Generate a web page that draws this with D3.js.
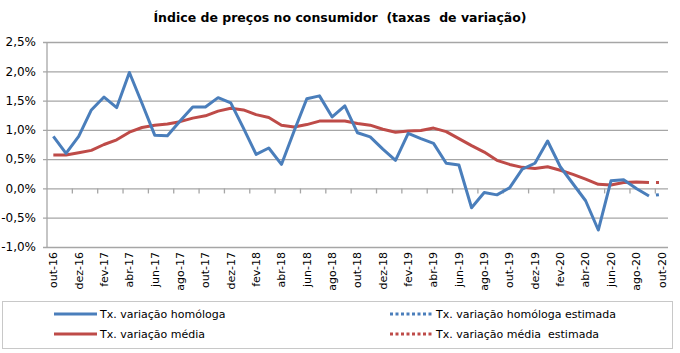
<!DOCTYPE html>
<html>
<head>
<meta charset="utf-8">
<script src="https://cdn.jsdelivr.net/npm/d3@7"></script>
<style>
    body { margin: 0; background: #fff; }
    #chart { width: 680px; height: 353px; }
    text { font-family: "DejaVu Sans", sans-serif; fill: #000; }
</style>
</head>
<body>
<div id="chart"></div>
<script>
// months out-16 .. out-20
const months = [
    "out-16","nov-16","dez-16","jan-17","fev-17","mar-17","abr-17","mai-17","jun-17","jul-17","ago-17","set-17",
    "out-17","nov-17","dez-17","jan-18","fev-18","mar-18","abr-18","mai-18","jun-18","jul-18","ago-18","set-18",
    "out-18","nov-18","dez-18","jan-19","fev-19","mar-19","abr-19","mai-19","jun-19","jul-19","ago-19","set-19",
    "out-19","nov-19","dez-19","jan-20","fev-20","mar-20","abr-20","mai-20","jun-20","jul-20","ago-20","set-20",
    "out-20"
];

// Tx. variação homóloga (%), out-16 .. set-20
const homologa = [
    0.89, 0.60, 0.89, 1.34, 1.56, 1.38, 1.98, 1.45, 0.91, 0.90, 1.15, 1.39,
    1.39, 1.55, 1.46, 1.03, 0.58, 0.69, 0.41, 0.98, 1.53, 1.58, 1.22, 1.41,
    0.95, 0.88, 0.67, 0.48, 0.94, 0.85, 0.77, 0.43, 0.40, -0.33, -0.07, -0.11,
    0.01, 0.33, 0.43, 0.81, 0.37, 0.08, -0.21, -0.71, 0.13, 0.15, 0.00, -0.13
];

// Tx. variação média (%), out-16 .. set-20
const media = [
    0.57, 0.57, 0.61, 0.65, 0.75, 0.83, 0.96, 1.04, 1.08, 1.10, 1.14, 1.20,
    1.24, 1.32, 1.37, 1.34, 1.26, 1.21, 1.08, 1.05, 1.09, 1.15, 1.15, 1.15,
    1.11, 1.08, 1.01, 0.96, 0.98, 0.99, 1.03, 0.97, 0.85, 0.73, 0.62, 0.48,
    0.41, 0.36, 0.34, 0.37, 0.31, 0.24, 0.16, 0.07, 0.06, 0.10, 0.11, 0.10
];

// estimated values
const estMonths = ["set-20", "out-20"];
const homologaEst = [-0.13, -0.10];
const mediaEst = [0.10, 0.10];

const yTicks = [-1.0, -0.5, 0.0, 0.5, 1.0, 1.5, 2.0, 2.5];

const legendItems = [
    { label: "Tx. variação homóloga", color: "#4a7ebb", dotted: false },
    { label: "Tx. variação média", color: "#be4b48", dotted: false },
    { label: "Tx. variação homóloga estimada", color: "#4a7ebb", dotted: true },
    { label: "Tx. variação média  estimada", color: "#be4b48", dotted: true }
];

class CpiChart {

    constructor(parentElement) {
        this.parentElement = parentElement;
        this.initVis();
    }

    initVis() {
        let vis = this;

        vis.margin = {top: 42, right: 12, bottom: 106, left: 47};
        vis.width = 680 - vis.margin.left - vis.margin.right;
        vis.height = 353 - vis.margin.top - vis.margin.bottom;

        vis.root = d3.select(`#${vis.parentElement}`)
            .append("svg")
            .attr("width", 680)
            .attr("height", 353);

        // title
        vis.root.append("text")
            .attr("x", 340)
            .attr("y", 22)
            .attr("text-anchor", "middle")
            .style("font-size", "12.5px")
            .style("font-weight", "bold")
            .attr("xml:space", "preserve")
            .text("Índice de preços no consumidor  (taxas  de variação)");

        vis.svg = vis.root.append("g")
            .attr("transform", `translate(${vis.margin.left},${vis.margin.top})`);

        vis.x = d3.scaleBand()
            .domain(months)
            .range([0, vis.width])
            .padding(0);

        vis.y = d3.scaleLinear()
            .domain([-1.0, 2.5])
            .range([vis.height, 0]);

        vis.updateVis();
        vis.drawLegend();
    }

    updateVis() {
        let vis = this;
        let fmt = d => d3.format(".1f")(d).replace(".", ",").replace("−", "-") + "%";

        // y axis + gridlines
        let yAxis = vis.svg.append("g")
            .call(d3.axisLeft(vis.y).tickValues(yTicks).tickSize(-vis.width - 4).tickFormat(fmt))
            .attr("transform", "translate(-4,0)");
        yAxis.select(".domain").remove();
        yAxis.selectAll("line").style("stroke", "#a6a6a6").style("stroke-width", 1.3);
        yAxis.selectAll("text")
            .attr("x", -7)
            .style("font-size", "12px")
            .style("font-family", "DejaVu Sans");

        vis.svg.append("line")
            .attr("x1", 0).attr("x2", 0)
            .attr("y1", vis.y(2.5)).attr("y2", vis.y(-1.0))
            .style("stroke", "#a6a6a6")
            .style("stroke-width", 1.3);

        // category tick marks on the 0% line, every 2 months
        let tickMonths = months.filter((m, i) => i % 2 === 0 && i > 0);
        vis.svg.selectAll(".cat-tick")
            .data(tickMonths)
            .enter()
            .append("line")
            .attr("class", "cat-tick")
            .attr("x1", d => vis.x(d)).attr("x2", d => vis.x(d))
            .attr("y1", vis.y(0)).attr("y2", vis.y(0) + 5)
            .style("stroke", "#a6a6a6")
            .style("stroke-width", 1.3);

        // category labels at the bottom
        let xAxis = vis.svg.append("g")
            .attr("transform", `translate(0,${vis.height})`)
            .call(d3.axisBottom(vis.x).tickValues(months.filter((m, i) => i % 2 === 0)).tickSize(0));
        xAxis.select(".domain").remove();
        xAxis.selectAll("text")
            .attr("transform", "rotate(-90)")
            .attr("text-anchor", "end")
            .attr("x", -5)
            .attr("y", 0)
            .attr("dy", "0.35em")
            .style("font-size", "11px")
            .style("font-family", "DejaVu Sans");

        let cx = d => vis.x(d) + vis.x.bandwidth() / 2;

        let line = d3.line()
            .x(d => cx(d.m))
            .y(d => vis.y(d.v));

        let homData = homologa.map((v, i) => ({m: months[i], v: v}));
        let medData = media.map((v, i) => ({m: months[i], v: v}));
        let homEst = homologaEst.map((v, i) => ({m: estMonths[i], v: v}));
        let medEst = mediaEst.map((v, i) => ({m: estMonths[i], v: v}));

        vis.svg.append("path")
            .datum(medData)
            .attr("d", line)
            .attr("fill", "none")
            .attr("stroke", "#be4b48")
            .attr("stroke-width", 3)
            .attr("stroke-linejoin", "round");

        vis.svg.append("path")
            .datum(homData)
            .attr("d", line)
            .attr("fill", "none")
            .attr("stroke", "#4a7ebb")
            .attr("stroke-width", 3)
            .attr("stroke-linejoin", "round");

        [[homEst, "#4a7ebb"], [medEst, "#be4b48"]].forEach(([data, color]) => {
            vis.svg.append("path")
                .datum(data)
                .attr("d", line)
                .attr("fill", "none")
                .attr("stroke", color)
                .attr("stroke-width", 3)
                .attr("stroke-dasharray", "0,7,3,20");
        });
    }

    drawLegend() {
        let vis = this;

        vis.root.append("rect")
            .attr("x", 2.5).attr("y", 301.5)
            .attr("width", 670).attr("height", 47)
            .attr("fill", "none")
            .attr("stroke", "#c8c8c8");

        let items = vis.root.selectAll(".legend-item")
            .data(legendItems)
            .enter()
            .append("g")
            .attr("class", "legend-item")
            .attr("transform", (d, i) => `translate(${i < 2 ? 54 : 390},${i % 2 === 0 ? 314 : 334})`);

        items.append("line")
            .attr("x1", 0).attr("x2", 43)
            .attr("stroke", d => d.color)
            .attr("stroke-width", 3)
            .attr("stroke-dasharray", d => d.dotted ? "3,2.5" : null);

        items.append("text")
            .attr("x", 46)
            .attr("dy", "0.35em")
            .style("font-size", "11px")
            .attr("xml:space", "preserve")
            .text(d => d.label);
    }
}

new CpiChart("chart");
</script>
</body>
</html>
